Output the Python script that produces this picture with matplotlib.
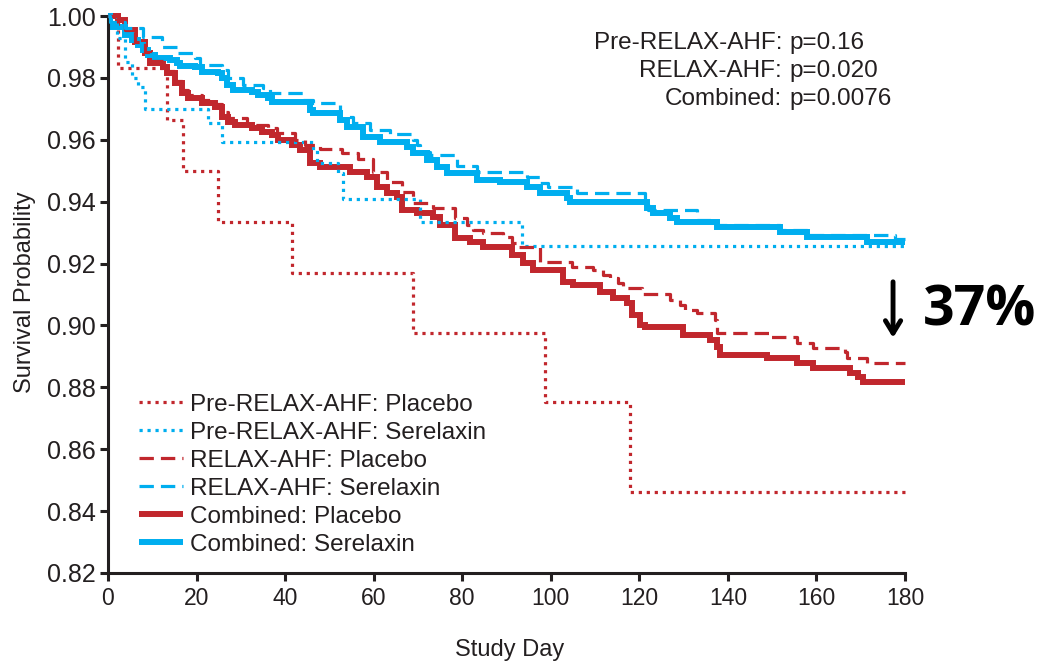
import matplotlib
matplotlib.use("Agg")
import matplotlib.pyplot as plt
from matplotlib.lines import Line2D

plt.rcParams['font.family'] = ['Liberation Sans', 'DejaVu Sans']

RED = "#c1272d"
BLUE = "#00aeef"
INK = "#231f20"

# ---- data (Kaplan-Meier step points: day, survival) ----
pre_placebo_days = [0, 2.3, 13.3, 16.9, 24.8, 41.6, 68.9, 98.7, 117.9, 180]
pre_placebo_surv = [1.0, 0.9833, 0.9664, 0.9500, 0.9334, 0.9170, 0.8976, 0.8753, 0.8462, 0.8462]

pre_serelaxin_days = [0, 2.0, 3.8, 5.4, 6.8, 8.4, 22.6, 25.7, 46.3, 47.2, 51.9, 53.1, 70.5, 93.5, 180]
pre_serelaxin_surv = [1.0, 0.993, 0.985, 0.980, 0.977, 0.970, 0.9654, 0.9593, 0.9567, 0.9525,
                      0.9493, 0.9409, 0.9334, 0.9257, 0.9257]

relax_placebo_days = [0, 2.3, 3.8, 6.1, 8.4, 9.5, 12.4, 13.3, 15.1, 16.7, 18.1, 21.2, 24.2, 25.7,
                      27.1, 31.4, 36.1, 38.2, 42.2, 44.5, 47.9, 52.8, 56.5, 59.8, 63.0, 66.4, 68.9,
                      73.4, 78.4, 81.1, 82.4, 84.7, 89.2, 91.2, 92.6, 97.6, 104.8, 109.5, 111.8,
                      113.4, 115.2, 116.3, 120.6, 126.9, 129.2, 130.3, 133.0, 137.1, 137.5, 149.5,
                      155.6, 159.2, 166.4, 166.9, 171.4, 180]
relax_placebo_surv = [1.0, 0.9987, 0.9955, 0.9916, 0.9884, 0.9855, 0.9840, 0.9822, 0.9790, 0.9760,
                      0.9745, 0.9728, 0.9715, 0.9690, 0.9670, 0.9648, 0.9638, 0.9622, 0.9599,
                      0.9583, 0.9570, 0.9557, 0.9538, 0.9496, 0.9464, 0.9431, 0.9396, 0.9380,
                      0.9347, 0.9325, 0.9309, 0.9299, 0.9286, 0.9267, 0.9254, 0.9205, 0.9189,
                      0.9179, 0.9163, 0.9153, 0.9137, 0.9121, 0.9102, 0.9082, 0.9066, 0.9050,
                      0.9040, 0.9018, 0.8976, 0.8963, 0.8943, 0.8927, 0.8914, 0.8895, 0.8879, 0.8879]

relax_serelaxin_days = [0, 0.5, 3.8, 7.9, 12.2, 15.6, 19.6, 20.8, 25.7, 27.1, 30.5, 35.0, 36.6,
                        44.0, 46.3, 52.4, 55.3, 59.2, 63.7, 68.9, 69.8, 70.5, 72.7, 78.8, 83.3,
                        94.6, 97.6, 99.4, 105.9, 121.3, 122.0, 133.0, 137.5, 151.8, 157.9, 177.7, 180]
relax_serelaxin_surv = [1.0, 0.998, 0.996, 0.9932, 0.9900, 0.9880, 0.9864, 0.9842, 0.9826, 0.9800,
                        0.9777, 0.9767, 0.9751, 0.9729, 0.9719, 0.9674, 0.9654, 0.9632, 0.9619,
                        0.9599, 0.9583, 0.9561, 0.9551, 0.9515, 0.9496, 0.9480, 0.9460, 0.9447,
                        0.9428, 0.9405, 0.9373, 0.9341, 0.9325, 0.9309, 0.9292, 0.9280, 0.9280]

comb_placebo_days = [0, 2.3, 3.8, 6.1, 8.4, 9.5, 12.4, 13.3, 15.1, 16.7, 18.1, 21.2, 24.2, 25.7,
                     27.1, 28.7, 32.5, 34.8, 37.0, 38.4, 41.6, 43.4, 45.6, 47.9, 54.7, 58.5, 60.7,
                     63.0, 65.3, 66.4, 69.8, 73.4, 75.0, 78.4, 81.8, 84.7, 91.2, 93.7, 96.0, 102.8,
                     105.0, 111.1, 114.0, 117.2, 118.3, 120.1, 121.3, 129.9, 136.0, 137.5, 138.2,
                     148.8, 155.6, 159.2, 167.6, 169.4, 170.5, 180]
comb_placebo_surv = [1.0, 0.9987, 0.9955, 0.9916, 0.9880, 0.9848, 0.9835, 0.9816, 0.9784, 0.9751,
                     0.9735, 0.9719, 0.9706, 0.9674, 0.9658, 0.9648, 0.9638, 0.9625, 0.9616,
                     0.9599, 0.9583, 0.9567, 0.9525, 0.9512, 0.9496, 0.9480, 0.9447, 0.9428,
                     0.9415, 0.9373, 0.9363, 0.9351, 0.9325, 0.9283, 0.9270, 0.9254, 0.9228,
                     0.9202, 0.9179, 0.9141, 0.9131, 0.9108, 0.9089, 0.9073, 0.9034, 0.9002,
                     0.8995, 0.8969, 0.8953, 0.8930, 0.8905, 0.8895, 0.8879, 0.8863, 0.8847,
                     0.8834, 0.8817, 0.8817]

comb_serelaxin_days = [0, 0.5, 3.8, 5.4, 6.8, 7.9, 9.0, 10.6, 14.0, 15.6, 16.3, 19.6, 21.2, 24.8,
                       25.7, 26.9, 28.2, 32.5, 33.9, 36.1, 37.0, 45.6, 46.3, 52.4, 54.0, 57.6, 61.4,
                       67.5, 68.9, 72.0, 74.3, 76.6, 83.3, 88.5, 94.6, 97.6, 103.7, 104.3, 121.7,
                       123.1, 126.9, 128.5, 137.5, 151.8, 157.9, 171.4, 180]
comb_serelaxin_surv = [1.0, 0.9964, 0.9939, 0.9922, 0.9906, 0.9890, 0.9874, 0.9864, 0.9858, 0.9848,
                       0.9838, 0.9835, 0.9819, 0.9816, 0.9800, 0.9777, 0.9761, 0.9754, 0.9745,
                       0.9735, 0.9722, 0.9696, 0.9687, 0.9664, 0.9641, 0.9609, 0.9593, 0.9577,
                       0.9557, 0.9535, 0.9512, 0.9493, 0.9470, 0.9464, 0.9447, 0.9428, 0.9412,
                       0.9399, 0.9380, 0.9363, 0.9347, 0.9334, 0.9318, 0.9302, 0.9286, 0.9270, 0.9270]

series_labels = ["Pre-RELAX-AHF: Placebo", "Pre-RELAX-AHF: Serelaxin",
                 "RELAX-AHF: Placebo", "RELAX-AHF: Serelaxin",
                 "Combined: Placebo", "Combined: Serelaxin"]

p_labels = ["Pre-RELAX-AHF:", "RELAX-AHF:", "Combined:"]
p_values = ["p=0.16", "p=0.020", "p=0.0076"]

x_ticks = [0, 20, 40, 60, 80, 100, 120, 140, 160, 180]
y_ticks = [0.82, 0.84, 0.86, 0.88, 0.90, 0.92, 0.94, 0.96, 0.98, 1.00]
reduction_label = "37%"

# ---- figure ----
W, H = 1037, 665
fig = plt.figure(figsize=(W / 100, H / 100), dpi=100)
ax = fig.add_axes([108 / W, 1 - 573 / H, (905 - 108) / W, (573 - 16) / H])

dotted = (0, (1, 1.5))
dashed = (0, (4.5, 2.2))
styles = [
    dict(color=RED, lw=2.3, ls=dotted),
    dict(color=BLUE, lw=2.3, ls=dotted),
    dict(color=RED, lw=2.3, ls=dashed),
    dict(color=BLUE, lw=2.3, ls=dashed),
    dict(color=RED, lw=4.3, ls='-'),
    dict(color=BLUE, lw=4.3, ls='-'),
]
data = [
    (pre_placebo_days, pre_placebo_surv),
    (pre_serelaxin_days, pre_serelaxin_surv),
    (relax_placebo_days, relax_placebo_surv),
    (relax_serelaxin_days, relax_serelaxin_surv),
    (comb_placebo_days, comb_placebo_surv),
    (comb_serelaxin_days, comb_serelaxin_surv),
]
z = {0: 3, 1: 3, 2: 4, 3: 4, 4: 2, 5: 2}
for i in range(6):
    d, s = data[i]
    st = styles[i]
    ax.plot(d, s, drawstyle='steps-post', color=st['color'], lw=st['lw'],
            ls=st['ls'], dash_capstyle='butt', solid_capstyle='butt',
            solid_joinstyle='miter', zorder=z[i], clip_on=False)

ax.set_xlim(0, 180)
ax.set_ylim(0.82, 1.00)
ax.set_xticks(x_ticks)
ax.set_yticks(y_ticks)
ax.set_xticklabels([str(t) for t in x_ticks])
ax.set_yticklabels([f"{t:.2f}" for t in y_ticks])
for side in ['top', 'right']:
    ax.spines[side].set_visible(False)
for side in ['left', 'bottom']:
    ax.spines[side].set_linewidth(2.2)
    ax.spines[side].set_color(INK)
ax.tick_params(axis='both', direction='out', length=6, width=2.2, color=INK,
               labelcolor=INK)
ax.tick_params(axis='y', labelsize=18, pad=3)
ax.tick_params(axis='x', labelsize=16.5, pad=4)

fig.text(25 / W, 1 - 292 / H, "Survival Probability", rotation=90, ha='center',
         va='center', fontsize=17, color=INK)
fig.text(510 / W, 1 - 650 / H, "Study Day", ha='center', va='center',
         fontsize=17, color=INK)

# legend
handles = [Line2D([0], [0], color=styles[i]['color'], lw=styles[i]['lw'],
                  ls=styles[i]['ls'], dash_capstyle='butt', solid_capstyle='butt')
           for i in range(6)]
leg = ax.legend(handles, series_labels, loc='lower left',
                bbox_to_anchor=(31 / 797, 17 / 557), frameon=False,
                fontsize=17.5, handlelength=1.8, handletextpad=0.3,
                labelspacing=0.25, borderpad=0, borderaxespad=0)
for t in leg.get_texts():
    t.set_color(INK)

# p-values
for k, (lab, pv) in enumerate(zip(p_labels, p_values)):
    yy = 1 - (43 + 28 * k) / H
    fig.text(782 / W, yy, lab, ha='right', va='center', fontsize=17.5, color=INK)
    fig.text(789 / W, yy, pv, ha='left', va='center', fontsize=17.5, color=INK)

# arrow and reduction label
ax.annotate("", xy=(177.3, 0.8960), xytext=(177.3, 0.9141),
            arrowprops=dict(arrowstyle='->,head_length=0.9,head_width=0.55',
                            lw=3.5, color='black', shrinkA=0, shrinkB=0),
            annotation_clip=False)
fig.text(980 / W, 1 - 311 / H, reduction_label, ha='center', va='center',
         fontsize=40, fontweight='bold', family=['Open Sans', 'DejaVu Sans'],
         color='black')

fig.savefig("out.png", dpi=100)
